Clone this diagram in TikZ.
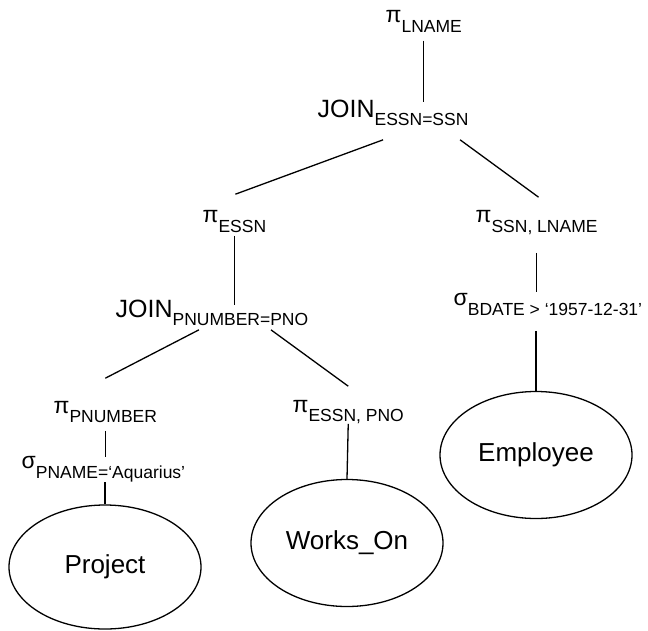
\documentclass[tikz,border=0pt]{standalone}
\usepackage{fontspec}
\setmainfont{Liberation Sans}
\usetikzlibrary{shapes.geometric, calc}
\newcommand{\relop}[3][10pt]{{\fontsize{25}{25}\selectfont #2}\raisebox{-#1}{\fontsize{17.5}{18}\selectfont #3}}
\newcommand{\grk}[1]{\fontsize{23}{23}\selectfont #1}

\begin{document}
\begin{tikzpicture}[x=1pt, y=-1pt, line width=1.3pt,
		op/.style={anchor=base west, inner sep=0pt},
		rel/.style={draw, ellipse, inner sep=0pt, minimum width=192pt, minimum height=127pt, font=\fontsize{26}{26}\selectfont}]
		\useasboundingbox (0,0) rectangle (648,630);

		% Operator nodes
		\node[op] (lname) at (385,22) {\relop{\grk{π}}{LNAME}};
		\node[op] (join1) at (317,117) {\relop[8pt]{JOIN}{ESSN=SSN}};
		\node[op] (pessn) at (202,222) {\relop{\grk{π}}{ESSN}};
		\node[op] (pssn) at (475,222) {\relop{\grk{π}}{SSN, LNAME}};
		\node[op] (sbdate) at (453,305) {\relop{\grk{σ}}{BDATE > `1957-12-31'}};
		\node[op] (join2) at (115,317) {\relop[8pt]{JOIN}{PNUMBER=PNO}};
		\node[op] (ppnum) at (53,413) {\relop[9pt]{\grk{π}}{PNUMBER}};
		\node[op] (pepno) at (292,412) {\relop[9pt]{\grk{π}}{ESSN, PNO}};
		\node[op] (spname) at (21,468) {\relop{\grk{σ}}{PNAME=`Aquarius'}};

		% Relations
		\node[rel, minimum height=124pt] (project) at (105,567) {Project};
		\node[rel] (workson) at (347,543) {Works\_On};
		\node[rel] (employee) at (536,455) {Employee};

		% Edges
		\draw[shorten <=8pt, shorten >=-3pt] (lname.south) -- (lname.south |- join1.north);
		\draw ($(join1.south)+(-10,14)$) -- ($(pessn.north)+(1,-15)$);
		\draw ($(join1.south east)+(-9,14)$) -- ($(pssn.north)+(2,-12)$);
		\draw[shorten <=3pt, shorten >=-6pt] (pessn.south) -- (pessn.south |- join2.north);
		\draw[shorten <=18pt] (pssn.south) -- (pssn.south |- sbdate.north);
		\draw ($(join2.south)+(-13,4)$) -- ($(ppnum.north)+(0,-22)$);
		\draw ($(join2.south)+(59,4)$) -- ($(pepno.north)+(0,-13)$);
		\draw[shorten <=8pt, shorten >=-2pt] (ppnum.south) -- (ppnum.south |- spname.north);
		\draw (project.north |- spname.south) -- (project.north);
		\draw (pepno.south) -- (workson.north);
		\draw[shorten <=15pt] (employee.north |- sbdate.south) -- (employee.north);
	\end{tikzpicture}
\end{document}
